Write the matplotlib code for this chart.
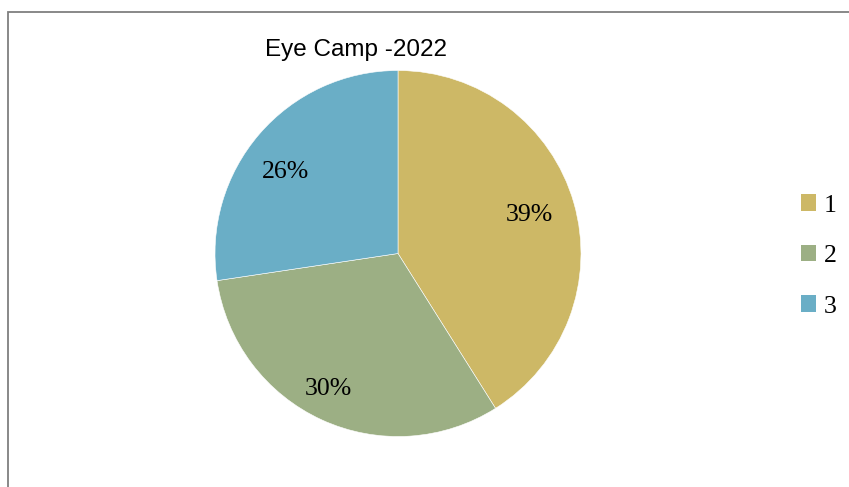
import numpy as np
import matplotlib.pyplot as plt
from matplotlib.patches import Rectangle, Patch

# data
categories = ['1', '2', '3']
values = [39, 30, 26]
colors = ['#CDB866', '#9CAF84', '#6AAEC6']
title = 'Eye Camp -2022'

W, H = 849, 487
fig = plt.figure(figsize=(W / 100, H / 100), dpi=100)

# outer frame (runs off the right and bottom edges)
fig.patches.append(Rectangle((7.5 / W, -0.1), 1.2, 1 - 11.5 / H + 0.1,
                             transform=fig.transFigure, fill=False,
                             edgecolor='#7f7f7f', linewidth=1.3))

# pie axes: centre (398, 253.5) px, radius 183 px
r = 183
cx, cy = 398, 253.5
ax = fig.add_axes([(cx - r) / W, (H - cy - r) / H, 2 * r / W, 2 * r / H])
wedges, texts = ax.pie(values, colors=colors, startangle=90, counterclock=False,
                       labels=[f'{v}%' for v in values], labeldistance=0.77,
                       wedgeprops=dict(edgecolor='white', linewidth=0.4),
                       textprops=dict(family='Liberation Serif', fontsize=18.5,
                                      ha='center', va='center'))
# excel-style "best fit" label placement, nudged per slice
label_dist = [0.75, 0.83, 0.76]
angle_shift = [0, -2.6, 5]
for w, t, d, s in zip(wedges, texts, label_dist, angle_shift):
    a = np.deg2rad((w.theta1 + w.theta2) / 2 + s)
    t.set_position((d * np.cos(a), d * np.sin(a)))
ax.set_xlim(-1, 1)
ax.set_ylim(-1, 1)
ax.set_aspect('auto')

fig.text(356 / W, 1 - 50 / H, title, family='Liberation Sans', fontsize=17.5,
         ha='center', va='center')

handles = [Patch(facecolor=c, edgecolor='none') for c in colors]
fig.legend(handles, categories, loc='center left', bbox_to_anchor=(801 / W, 1 - 256 / H),
           frameon=False, prop=dict(family='Liberation Serif', size=18.5),
           handlelength=0.6, handleheight=0.6, handletextpad=0.3,
           labelspacing=1.1, borderpad=0, borderaxespad=0)

fig.savefig('out.png', dpi=100)
